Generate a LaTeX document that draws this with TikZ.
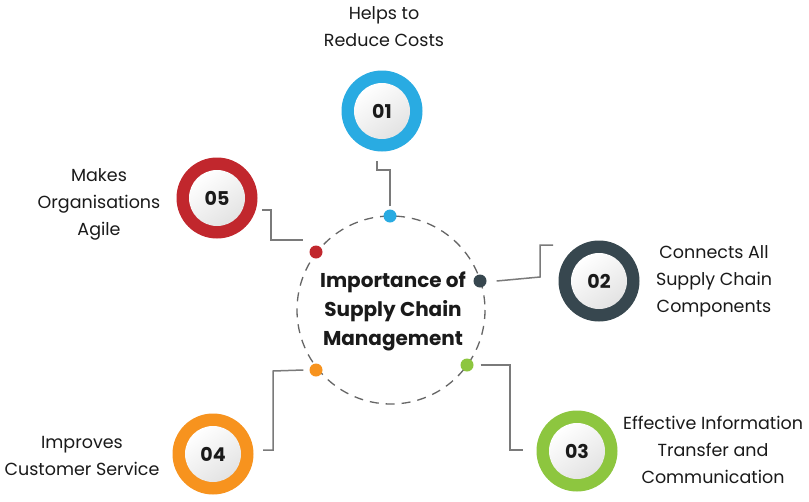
\documentclass[tikz,border=0pt]{standalone}
\usepackage{fontspec}
\setmainfont{Poppins}
\definecolor{cblue}{HTML}{29ABE2}
\definecolor{cred}{HTML}{C1272D}
\definecolor{cslate}{HTML}{37474F}
\definecolor{cgreen}{HTML}{8DC63F}
\definecolor{corange}{HTML}{F7931E}
\definecolor{cline}{HTML}{7A7A7A}
\definecolor{cdash}{HTML}{666666}
\definecolor{ctext}{HTML}{1A1A1A}
\tikzset{
  ring/.style={circle, minimum size=81pt, inner sep=0pt, fill=#1},
  core/.style={circle, minimum size=56pt, inner sep=0pt, top color=white, bottom color=gray!22, shading angle=35,
    font=\fontsize{19}{22}\selectfont\bfseries, text=ctext},
  dot/.style={circle, minimum size=13pt, inner sep=0pt, fill=#1},
  conn/.style={draw=cline, line width=1.5pt},
  label/.style={align=center, font=\fontsize{17.5}{27}\selectfont, text=ctext, inner sep=0pt},
  title/.style={align=center, font=\fontsize{20}{29}\selectfont\bfseries, text=ctext, inner sep=0pt}
}
\begin{document}
\begin{tikzpicture}[x=1pt,y=-1pt]
\useasboundingbox[fill=white] (0,0) rectangle (809,501);
% central dashed circle
\draw[cdash, line width=1.3pt, dash pattern=on 9pt off 7pt] (391,310) circle[radius=94];
\node[title] (t) at (393,311) {Importance of\\Supply Chain\\Management};
% dots
\node[dot=cblue] (d1) at (390,216) {};
\node[dot=cslate] (d2) at (480,281) {};
\node[dot=cgreen] (d3) at (467,365) {};
\node[dot=corange] (d4) at (316,370) {};
\node[dot=cred] (d5) at (316,252) {};
% rings
\node[ring=cblue] (r1) at (382,111) {};
\node[core] (n1) at (r1) {01};
\node[ring=cslate] (r2) at (599,281) {};
\node[core] (n2) at (r2) {02};
\node[ring=cgreen] (r3) at (577,451) {};
\node[core] (n3) at (r3) {03};
\node[ring=corange] (r4) at (213,454) {};
\node[core] (n4) at (r4) {04};
\node[ring=cred] (r5) at (217,198) {};
\node[core] (n5) at (r5) {05};
% connector ends
\coordinate (e1) at (377,161);
\coordinate (e2) at (553,245);
\coordinate (e3) at (523,450);
\coordinate (e4) at (263,450);
\coordinate (e5) at (262,210);
\coordinate (s5) at (303,240);
\draw[conn] ([yshift=3]d1.north) -- (390,170) -- (377,170) -- (e1);
\draw[conn] ([xshift=10]d2.east) -- (540,277) -- (540,245) -- (e2);
\draw[conn] ([xshift=7]d3.east) -- (510,365) -- (510,450) -- (e3);
\draw[conn] ([xshift=-6]d4.west) -- (273,371) -- (273,450) -- (e4);
\draw[conn] (e5) -- (271,210) -- (271,240) -- (s5);
% labels
\node[label] (l1) at (384,27) {Helps to\\Reduce Costs};
\node[label] (l2) at (714,281) {Connects All\\Supply Chain\\Components};
\node[label] (l3) at (713,450) {Effective Information\\Transfer and\\Communication};
\node[label] (l4) at (82,456) {Improves\\Customer Service};
\node[label] (l5) at (99,204) {Makes\\Organisations\\Agile};
\end{tikzpicture}
\end{document}
